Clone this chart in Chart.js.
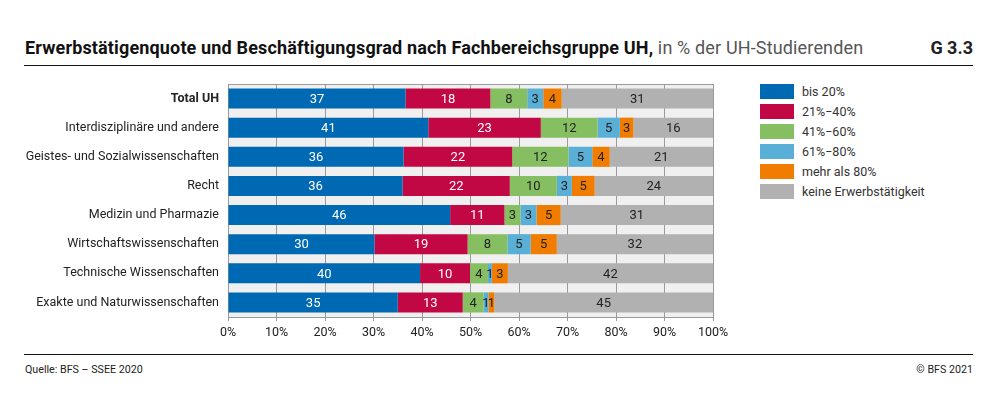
<!DOCTYPE html>
<html>
<head>
<meta charset="utf-8">
<script src="https://cdn.jsdelivr.net/npm/chart.js@4.4.0/dist/chart.umd.min.js"></script>
<style>
  body { margin: 0; background: #fff; font-family: Roboto, "Noto Sans", sans-serif; color: #222; }
  #page { position: relative; width: 998px; height: 397px; overflow: hidden; }
  #title { position: absolute; left: 25px; top: 37px; font-size: 18px; letter-spacing: 0.15px; line-height: 22px; white-space: nowrap; }
  #title b { font-weight: 700; color: #111; }
  #title span { color: #555; }
  #num { position: absolute; right: 25px; top: 37px; font-size: 18px; line-height: 22px; font-weight: 700; }
  .rule { position: absolute; left: 24px; width: 949px; height: 1px; background: #111; }
  #chartBox { position: absolute; left: 0; top: 70px; width: 740px; height: 280px; }
  #legend { position: absolute; left: 760px; top: 84px; font-size: 12.5px; color: #333; }
  .item { height: 20px; position: relative; }
  .item i { position: absolute; left: 0; top: 0; width: 34px; height: 15px; }
  .item span { position: absolute; left: 42px; top: 0; line-height: 15px; white-space: nowrap; }
  .foot { position: absolute; top: 363px; font-size: 10.7px; line-height: 14px; color: #222; }
</style>
</head>
<body>
<div id="page">
  <div id="title"><b>Erwerbstätigenquote und Beschäftigungsgrad nach Fachbereichsgruppe UH,</b><span> in % der UH-Studierenden</span></div>
  <div id="num">G 3.3</div>
  <div class="rule" style="top:65px"></div>
  <div id="chartBox"><canvas id="chart"></canvas></div>
  <div id="legend"></div>
  <div class="rule" style="top:354px"></div>
  <div class="foot" style="left:25px">Quelle: BFS – SSEE 2020</div>
  <div class="foot" style="right:25px">© BFS 2021</div>
</div>
<script>
// categories (top to bottom)
var categories = ['Total UH', 'Interdisziplinäre und andere', 'Geistes- und Sozialwissenschaften', 'Recht',
  'Medizin und Pharmazie', 'Wirtschaftswissenschaften', 'Technische Wissenschaften', 'Exakte und Naturwissenschaften'];

// shares in %, one array per employment level
var bis20   = [36.6, 41.3, 36.2, 36.0, 45.8, 30.2, 39.6, 35.0];
var p21_40  = [17.5, 23.2, 22.4, 22.1, 11.2, 19.2, 10.3, 13.4];
var p41_60  = [7.6, 11.7, 11.6, 9.7, 3.3, 8.2, 3.7, 4.3];
var p61_80  = [3.3, 4.6, 4.9, 3.1, 3.3, 4.8, 0.8, 1.0];
var mehr80  = [3.8, 2.8, 3.6, 4.7, 5.0, 5.4, 3.3, 1.2];
var keine   = [31.2, 16.4, 21.3, 24.4, 31.4, 32.2, 42.3, 45.1];

var seriesNames = ['bis 20%', '21%\u221240%', '41%\u221260%', '61%\u221280%', 'mehr als 80%', 'keine Erwerbstätigkeit'];
var seriesData = [bis20, p21_40, p41_60, p61_80, mehr80, keine];
var colors = ['#0069b4', '#c20745', '#86be62', '#5aafd7', '#f07d00', '#b1b1b1'];
var labelColors = ['#fff', '#fff', '#222', '#222', '#222', '#222'];

var xTicks = [0, 10, 20, 30, 40, 50, 60, 70, 80, 90, 100];

// html legend
var legend = document.getElementById('legend');
seriesNames.forEach(function (n, i) {
  var d = document.createElement('div');
  d.className = 'item';
  d.innerHTML = '<i style="background:' + colors[i] + '"></i><span>' + n + '</span>';
  legend.appendChild(d);
});

// plot background and frame
var frame = {
  id: 'frame',
  beforeDraw: function (chart) {
    var a = chart.chartArea, c = chart.ctx;
    c.save();
    c.fillStyle = '#f0f0f0';
    c.fillRect(a.left, a.top, a.right - a.left, a.bottom - a.top);
    c.restore();
  },
  afterDraw: function (chart) {
    var a = chart.chartArea, c = chart.ctx;
    c.save();
    c.strokeStyle = '#9a9a9a';
    c.lineWidth = 1;
    c.beginPath();
    c.moveTo(a.left, a.top + 0.5);
    c.lineTo(a.right, a.top + 0.5);
    c.stroke();
    c.restore();
  }
};

// value labels in the middle of each segment
var valueLabels = {
  id: 'valueLabels',
  afterDatasetsDraw: function (chart) {
    var c = chart.ctx;
    c.save();
    c.font = '13px Roboto';
    c.textAlign = 'center';
    c.textBaseline = 'middle';
    chart.data.datasets.forEach(function (ds, i) {
      chart.getDatasetMeta(i).data.forEach(function (bar, j) {
        var p = bar.getCenterPoint();
        c.fillStyle = labelColors[i];
        c.fillText(Math.round(ds.data[j]), p.x, p.y + 1);
      });
    });
    c.restore();
  }
};

new Chart(document.getElementById('chart'), {
  type: 'bar',
  data: {
    labels: categories,
    datasets: seriesData.map(function (d, i) {
      return { label: seriesNames[i], data: d, backgroundColor: colors[i], borderWidth: 0,
               categoryPercentage: 1, barPercentage: 0.69 };
    })
  },
  options: {
    indexAxis: 'y',
    responsive: true,
    maintainAspectRatio: false,
    animation: false,
    layout: { padding: { left: 0, right: 27, top: 14, bottom: 3 } },
    plugins: { legend: { display: false }, tooltip: { enabled: false } },
    scales: {
      x: {
        stacked: true,
        min: 0, max: 100,
        afterBuildTicks: function (s) { s.ticks = xTicks.map(function (v) { return { value: v }; }); },
        afterFit: function (s) { s.height = 30; },
        grid: { color: '#9a9a9a', lineWidth: 1, tickLength: 4, drawTicks: true },
        border: { color: '#9a9a9a' },
        ticks: { padding: 4, color: '#222', font: { family: 'Roboto', size: 12.5 },
                 callback: function (v) { return v + '%'; } }
      },
      y: {
        stacked: true,
        afterFit: function (s) { s.width = 228; },
        grid: { display: false },
        border: { display: true, color: '#9a9a9a' },
        ticks: {
          padding: 1, color: '#222',
          font: function (ctx) {
            return { family: 'Roboto', size: 12.5, weight: ctx.index === 0 ? 'bold' : 'normal' };
          }
        }
      }
    }
  },
  plugins: [frame, valueLabels]
});
</script>
</body>
</html>
